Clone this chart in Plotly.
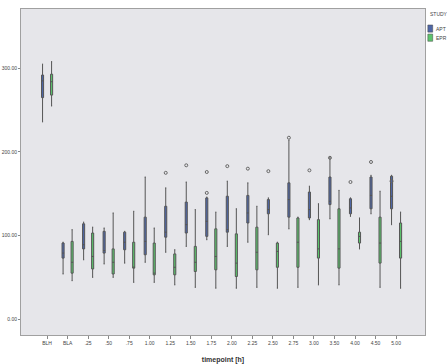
import plotly.graph_objects as go

categories = ["BLH", "BLA", ".25", ".50", ".75", "1.00", "1.25", "1.50", "1.75", "2.00",
              "2.25", "2.50", "2.75", "3.00", "3.50", "4.00", "4.50", "5.00"]

# APT (blue) box statistics
apt_lower = [236, 54, 71, 66, 67, 68, 80, 87, 95, 87, 92, 101, 108, 119, 120, 123, 126, 113]
apt_q1 =    [265, 73, 84, 79, 83, 77, 98, 103, 99, 104, 115, 126, 122, 121, 137, 126, 132, 132]
apt_med =   [285, 79, 89, 82, 92, 93, 104, 113, 117, 107, 127, 131, 143, 131, 141, 133, 148, 147]
apt_q3 =    [292, 91, 114, 105, 104, 122, 135, 140, 145, 147, 148, 143, 163, 152, 170, 144, 170, 171]
apt_upper = [305, 92, 116, 109, 105, 170, 157, 164, 146, 165, 163, 145, 214, 159, 194, 145, 172, 172]

# EPR (green) box statistics
epr_lower = [255, 46, 50, 50, 44, 44, 41, 38, 37, 37, 38, 37, 38, 41, 41, 84, 38, 37]
epr_q1 =    [268, 55, 60, 54, 61, 53, 53, 57, 59, 51, 59, 62, 62, 73, 61, 91, 67, 73]
epr_med =   [284, 68, 75, 68, 62, 55, 62, 68, 75, 67, 80, 81, 92, 84, 84, 99, 91, 93]
epr_q3 =    [293, 93, 103, 84, 92, 91, 78, 87, 108, 102, 110, 91, 121, 119, 132, 104, 122, 115]
epr_upper = [308, 107, 110, 127, 129, 109, 83, 131, 128, 132, 135, 92, 122, 138, 154, 121, 153, 128]

# APT outliers
apt_out_x = ["1.25", "1.50", "1.75", "1.75", "2.00", "2.25", "2.50", "2.75", "3.00", "3.50", "4.00", "4.50", "5.00"]
apt_out_y = [175, 184, 176, 151, 183, 180, 177, 217, 178, 193, 164, 188, 165]

y_tickvals = [0, 100, 200, 300]
y_ticktext = ["0.00", "100.00", "200.00", "300.00"]

legend_title = "STUDY"
series_names = ["APT", "EPR"]

BLUE = "#4f67a6"
GREEN = "#5cc46c"
LINE = "#555555"

fig = go.Figure()
fig.add_trace(go.Box(
    name=series_names[0], x=categories, q1=apt_q1, median=apt_med, q3=apt_q3,
    lowerfence=apt_lower, upperfence=apt_upper, offsetgroup="apt",
    fillcolor=BLUE, line=dict(color=LINE, width=1), hoverinfo="skip",
))
fig.add_trace(go.Box(
    name=series_names[1], x=categories, q1=epr_q1, median=epr_med, q3=epr_q3,
    lowerfence=epr_lower, upperfence=epr_upper, offsetgroup="epr",
    fillcolor=GREEN, line=dict(color=LINE, width=1), hoverinfo="skip",
))
fig.add_trace(go.Box(
    name="APT outliers", x=apt_out_x, y=apt_out_y, offsetgroup="apt",
    boxpoints="all", jitter=0, pointpos=0, fillcolor="rgba(0,0,0,0)",
    line=dict(width=0), showlegend=False, hoverinfo="skip",
    marker=dict(symbol="circle-open", size=3, color="#666666", line=dict(width=1)),
))

# compact legend drawn as annotations + swatches (paper coordinates)
annotations = [dict(text=legend_title, x=1.007, y=0.985, xref="paper", yref="paper",
                    xanchor="left", yanchor="middle", showarrow=False,
                    font=dict(size=5, color="#444444"))]
shapes = []
for i, (nm, col) in enumerate(zip(series_names, [BLUE, GREEN])):
    yc = 0.94 - i * 0.028
    shapes.append(dict(type="rect", xref="paper", yref="paper",
                       x0=1.007, x1=1.019, y0=yc - 0.011, y1=yc + 0.011,
                       fillcolor=col, line=dict(color="#444444", width=0.5)))
    annotations.append(dict(text=nm, x=1.023, y=yc, xref="paper", yref="paper",
                            xanchor="left", yanchor="middle", showarrow=False,
                            font=dict(size=5, color="#444444")))

fig.update_layout(
    template="none",
    width=448, height=364,
    margin=dict(l=21, r=23, t=9, b=29),
    paper_bgcolor="white",
    plot_bgcolor="#e6e6ea",
    showlegend=False,
    boxmode="group", boxgap=0.12, boxgroupgap=0.77,
    font=dict(family="Liberation Sans, Arial", size=6, color="#444444"),
    annotations=annotations,
    shapes=shapes,
    xaxis=dict(type="category", categoryorder="array", categoryarray=categories,
               range=[-1.27, 18.41], showgrid=False, zeroline=False,
               showline=True, linecolor="#a0a0a0", linewidth=1, mirror=True,
               ticks="outside", ticklen=3, tickcolor="#888888",
               tickfont=dict(size=5), automargin=False,
               title=dict(text="<b>timepoint [h]</b>", font=dict(size=7, color="#333333"))),
    yaxis=dict(range=[-19, 371], tickvals=y_tickvals, ticktext=y_ticktext,
               showgrid=False, zeroline=False,
               showline=True, linecolor="#a0a0a0", linewidth=1, mirror=True,
               ticks="outside", ticklen=2, tickcolor="#888888",
               tickfont=dict(size=5), automargin=False),
)

fig.write_html("out.html", config={"displayModeBar": False},
               post_script="document.body.style.margin='0';")
